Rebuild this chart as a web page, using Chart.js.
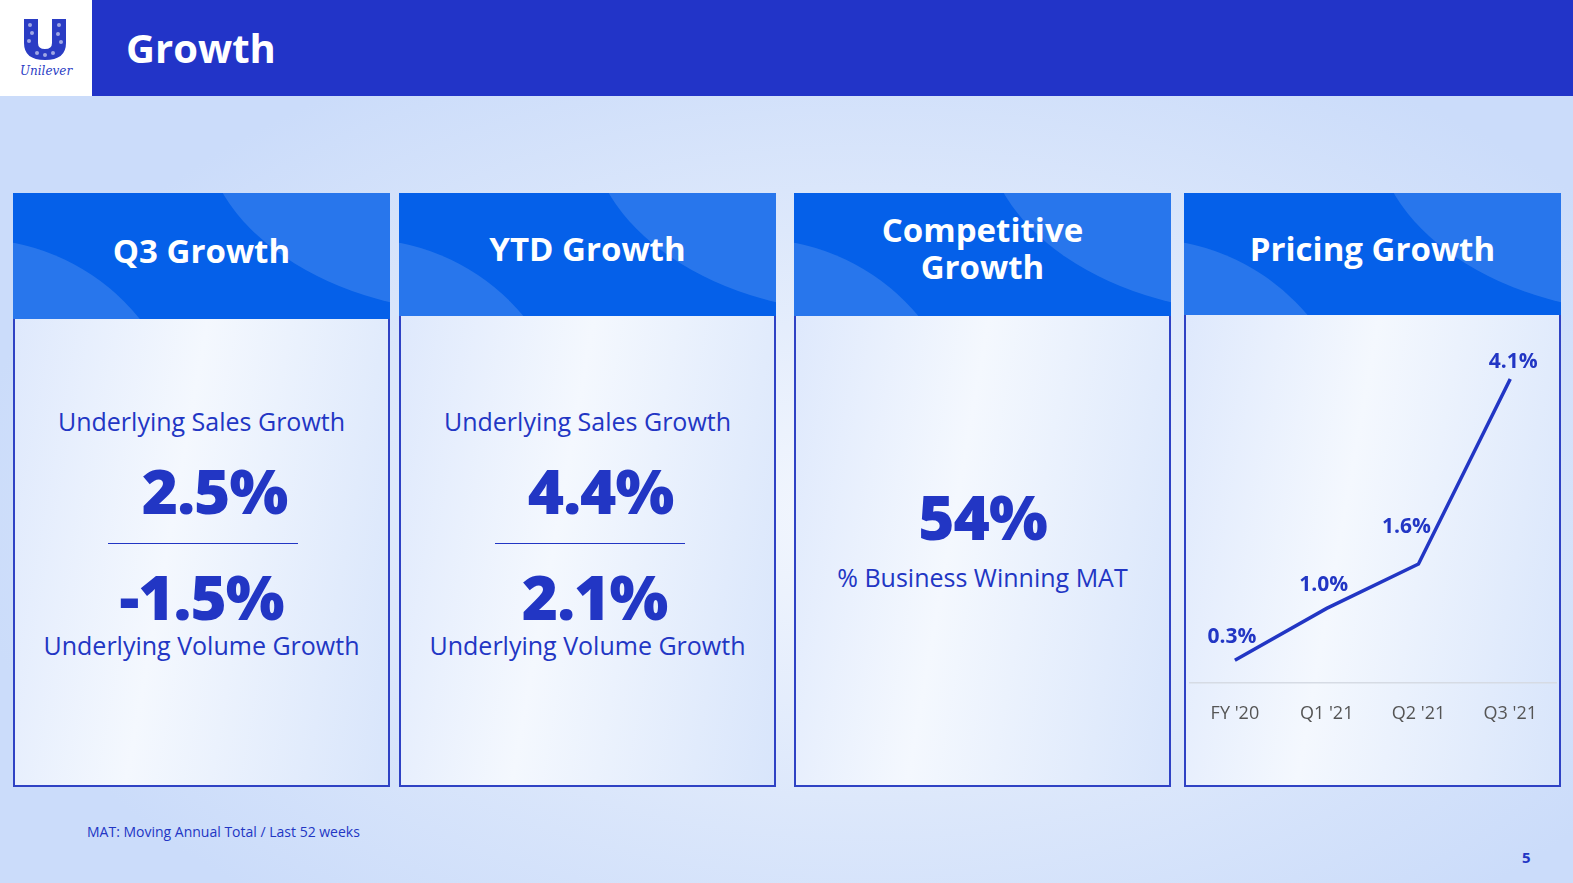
<!DOCTYPE html>
<html>
<head>
<meta charset="utf-8">
<script src="https://cdn.jsdelivr.net/npm/chart.js@4"></script>
<style>
  html, body { margin: 0; padding: 0; }
  body {
    width: 1573px; height: 883px; overflow: hidden; position: relative;
    font-family: "Open Sans", "Noto Sans", sans-serif;
    background: radial-gradient(ellipse 900px 520px at 55% 58%, #f3f7fe 0%, #dde8fb 55%, #cbdcfa 100%);
    color: #2236c4;
  }
  .topbar { position: absolute; left: 92px; top: 0; width: 1481px; height: 96px; background: #2234c8; }
  .logo { position: absolute; left: 0; top: 0; width: 92px; height: 96px; background: #fff; }
  .logo svg { position: absolute; left: 22px; top: 17px; }
  .logo .name { position: absolute; left: 0; right: 0; top: 63px; text-align: center; line-height: 16px;
    font: italic 12px/16px "DejaVu Serif", serif; color: #2a3cc4; }
  .title { position: absolute; left: 126px; top: 20px; font: 700 40px "Open Sans", sans-serif; color: #fff; }
  .card { position: absolute; top: 193px; width: 373px; height: 590px; border: 2px solid #2f42c4;
    background: linear-gradient(100deg, #dce7fc 0%, #f4f8fe 45%, #d8e5fb 100%); }
  .head { position: absolute; left: -2px; top: -2px; right: -2px; height: 126px; background: #0560e9; overflow: hidden; }
  .head .c1 { position: absolute; left: 190px; top: -260px; width: 560px; height: 380px; border-radius: 50%; background: rgba(255,255,255,0.14); }
  .head .c2 { position: absolute; left: -254px; top: 46px; width: 428px; height: 428px; border-radius: 50%; background: rgba(255,255,255,0.14); }
  .head .t { position: absolute; left: 0; right: 0; text-align: center; font: 700 33px/36px "Open Sans", sans-serif; color: #fff; }
  .txt { position: absolute; left: 0; right: 0; text-align: center; }
  .sub { font-size: 25px; line-height: 32px; color: #2236c4; }
  .big { font-weight: 800; font-size: 62px; line-height: 64px; color: #2236c4; letter-spacing: -1px; }
  .rule { position: absolute; height: 0; border-top: 1.5px solid #2236c4; }
  .foot { position: absolute; left: 87px; top: 822px; font-size: 14px; color: #2236c4; }
  .page { position: absolute; left: 1522px; top: 847px; font-weight: 700; font-size: 15px; color: #2236c4; }
  #chartBox { position: absolute; left: 1189px; top: 330px; width: 369px; height: 420px; }
</style>
</head>
<body>
<div class="logo">
  <svg width="46" height="44" viewBox="0 0 46 44">
    <path d="M2 2 H16 V26 Q16 32 23 32 Q30 32 30 26 V2 H44 V26 Q44 43 23 43 Q2 43 2 26 Z" fill="#2a3cc4"/>
    <g fill="#fff" opacity="0.55">
      <circle cx="8" cy="8" r="2"/><circle cx="10" cy="16" r="2"/><circle cx="7" cy="24" r="2"/>
      <circle cx="37" cy="8" r="2"/><circle cx="36" cy="17" r="2"/><circle cx="39" cy="25" r="2"/>
      <circle cx="15" cy="36" r="2"/><circle cx="23" cy="38" r="2"/><circle cx="31" cy="36" r="2"/>
    </g>
  </svg>
  <div class="name">Unilever</div>
</div>
<div class="topbar"></div>
<div class="title">Growth</div>

<div class="card" style="left:13px;">
  <div class="head"><div class="c1"></div><div class="c2"></div><div class="t" style="top:40px;">Q3 Growth</div></div>
  <div class="txt sub" style="top:210px;">Underlying Sales Growth</div>
  <div class="txt big" style="top:263px;left:26px;">2.5%</div>
  <div class="rule" style="left:93px;width:190px;top:348px;"></div>
  <div class="txt big" style="top:369px;">-1.5%</div>
  <div class="txt sub" style="top:434px;">Underlying Volume Growth</div>
</div>

<div class="card" style="left:399px;">
  <div class="head" style="height:123px;"><div class="c1"></div><div class="c2"></div><div class="t" style="top:38px;">YTD Growth</div></div>
  <div class="txt sub" style="top:210px;">Underlying Sales Growth</div>
  <div class="txt big" style="top:263px;left:26px;">4.4%</div>
  <div class="rule" style="left:94px;width:190px;top:348px;"></div>
  <div class="txt big" style="top:369px;left:14px;">2.1%</div>
  <div class="txt sub" style="top:434px;">Underlying Volume Growth</div>
</div>

<div class="card" style="left:794px;">
  <div class="head" style="height:123px;"><div class="c1"></div><div class="c2"></div>
    <div class="t" style="top:19px;">Competitive</div>
    <div class="t" style="top:56px;">Growth</div>
  </div>
  <div class="txt big" style="top:289px;">54%</div>
  <div class="txt sub" style="top:366px;">% Business Winning MAT</div>
</div>

<div class="card" style="left:1184px;">
  <div class="head" style="height:122px;"><div class="c1"></div><div class="c2"></div><div class="t" style="top:38px;">Pricing Growth</div></div>
</div>

<div id="chartBox"><canvas id="pricing"></canvas></div>

<div class="foot">MAT: Moving Annual Total / Last 52 weeks</div>
<div class="page">5</div>

<script>
const periods = ["FY '20", "Q1 '21", "Q2 '21", "Q3 '21"];
const pricingGrowth = [0.3, 1.0, 1.6, 4.1];

(function() {
    const ctx = document.getElementById('pricing');

    // value labels above each point, nudged left when the next segment climbs steeply
    const valueLabels = {
        id: 'valueLabels',
        afterDatasetsDraw(chart) {
            const c = chart.ctx;
            const pts = chart.getDatasetMeta(0).data;
            c.save();
            c.font = 'bold 21px "Open Sans", sans-serif';
            c.fillStyle = '#2236c4';
            c.textAlign = 'center';
            c.textBaseline = 'middle';
            pts.forEach((p, i) => {
                const v = pricingGrowth[i];
                const last = i === pts.length - 1;
                const steep = !last && pricingGrowth[i + 1] - v > 1;
                const dx = steep ? -12 : (last ? 3 : -3);
                const dy = steep ? -37 : (last ? -17 : -23);
                c.fillText(v.toFixed(1) + '%', p.x + dx, p.y + dy);
            });
            c.restore();
        }
    };

    new Chart(ctx, {
    type: 'line',
    data: {
        labels: periods,
        datasets: [{
            data: pricingGrowth,
            borderColor: '#2236c4',
            borderWidth: 3.5,
            pointRadius: 0,
            tension: 0,
            clip: false
        }]
    },
    options: {
        responsive: true,
        maintainAspectRatio: false,
        animation: false,
        layout: { padding: { top: 12, bottom: 4, left: 0, right: 0 } },
        scales: {
            x: {
                offset: true,
                grid: { display: false, drawTicks: false },
                border: { display: true, color: '#d6dbe4', width: 1.5 },
                ticks: { color: '#555', padding: 21, font: { size: 18, family: '"Open Sans", sans-serif' } }
            },
            y: {
                display: false,
                min: 0,
                max: 4.6
            }
        },
        plugins: {
            legend: { display: false },
            tooltip: { enabled: false }
        }
    },
    plugins: [valueLabels]
    });
})();
</script>
</body>
</html>
